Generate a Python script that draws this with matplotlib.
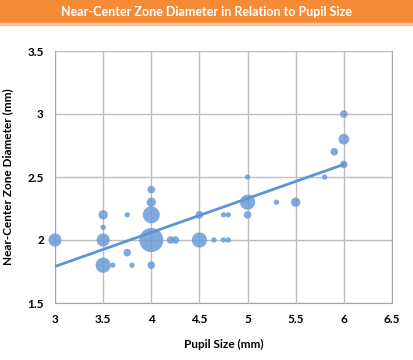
import numpy as np
import matplotlib.pyplot as plt

# pupil size (mm), near-center zone diameter (mm), number of eyes (bubble size)
pupil = [3, 3.5, 3.5, 3.5, 3.5, 3.6, 3.75, 3.75, 3.8,
         4, 4, 4, 4, 4, 4.2, 4.25, 4.5, 4.5, 4.65, 4.75, 4.8, 4.75, 4.8,
         5, 5, 5, 5.3, 5.5, 5.8, 5.9, 6, 6, 6]
zone = [2.0, 2.2, 2.1, 2.0, 1.8, 1.8, 2.2, 1.9, 1.8,
        2.4, 2.3, 2.2, 2.0, 1.8, 2.0, 2.0, 2.2, 2.0, 2.0, 2.0, 2.0, 2.2, 2.2,
        2.5, 2.3, 2.2, 2.3, 2.3, 2.5, 2.7, 3.0, 2.8, 2.6]
count = [6, 3, 1, 6, 8, 1, 1, 2, 1,
         2, 3, 10, 20, 2, 2, 2, 2, 8, 1, 1, 1, 1, 1,
         1, 8, 2, 1, 3, 1, 2, 2, 4, 2]

# trend line
trend_x = [3, 6]
trend_y = [1.79, 2.60]

x_ticks = [3, 3.5, 4, 4.5, 5, 5.5, 6, 6.5]
y_ticks = [1.5, 2, 2.5, 3, 3.5]

plt.rcParams['font.family'] = ['Lato', 'DejaVu Sans']

fig = plt.figure(figsize=(4.14, 3.6), dpi=100)

# orange title banner
fig.patches.append(plt.Rectangle((0, 1 - 23 / 360), 1, 23 / 360, transform=fig.transFigure,
                                 color='#F58B37', zorder=0))
fig.patches.append(plt.Rectangle((0, 1 - 25 / 360), 1, 2 / 360, transform=fig.transFigure,
                                 color='#F9C49B', zorder=0))
fig.text(0.5, 1 - 11.5 / 360, 'Near-Center Zone Diameter in Relation to Pupil Size',
         ha='center', va='center', color='white', fontsize=9, fontweight='bold')

ax = fig.add_axes([55 / 414, 57 / 360, 337 / 414, 252 / 360])

sizes = np.array(count) * 15
ax.scatter(pupil, zone, s=sizes, color='#6A9BD8', alpha=0.85, edgecolors='none',
           zorder=3, clip_on=False)
ax.plot(trend_x, trend_y, color='#5A96D6', linewidth=2, zorder=4)

ax.set_xlim(3, 6.5)
ax.set_ylim(1.5, 3.5)
ax.set_xticks(x_ticks)
ax.set_yticks(y_ticks)
ax.set_xticklabels([f'{t:g}' for t in x_ticks])
ax.set_yticklabels([f'{t:g}' for t in y_ticks])
ax.grid(True, color='#BDBDBD', linewidth=1)
ax.set_axisbelow(True)
ax.spines['top'].set_visible(False)
for side in ['left', 'bottom', 'right']:
    ax.spines[side].set_color('#A6A6A6')
ax.tick_params(length=0, labelsize=8.5, pad=8)
for lab in ax.get_xticklabels() + ax.get_yticklabels():
    lab.set_fontweight('bold')

ax.set_xlabel('Pupil Size (mm)', fontsize=8.5, fontweight='bold', labelpad=10)
ax.set_ylabel('Near-Center Zone Diameter (mm)', fontsize=8.5, fontweight='bold', labelpad=10)

fig.savefig('out.png', dpi=100)
